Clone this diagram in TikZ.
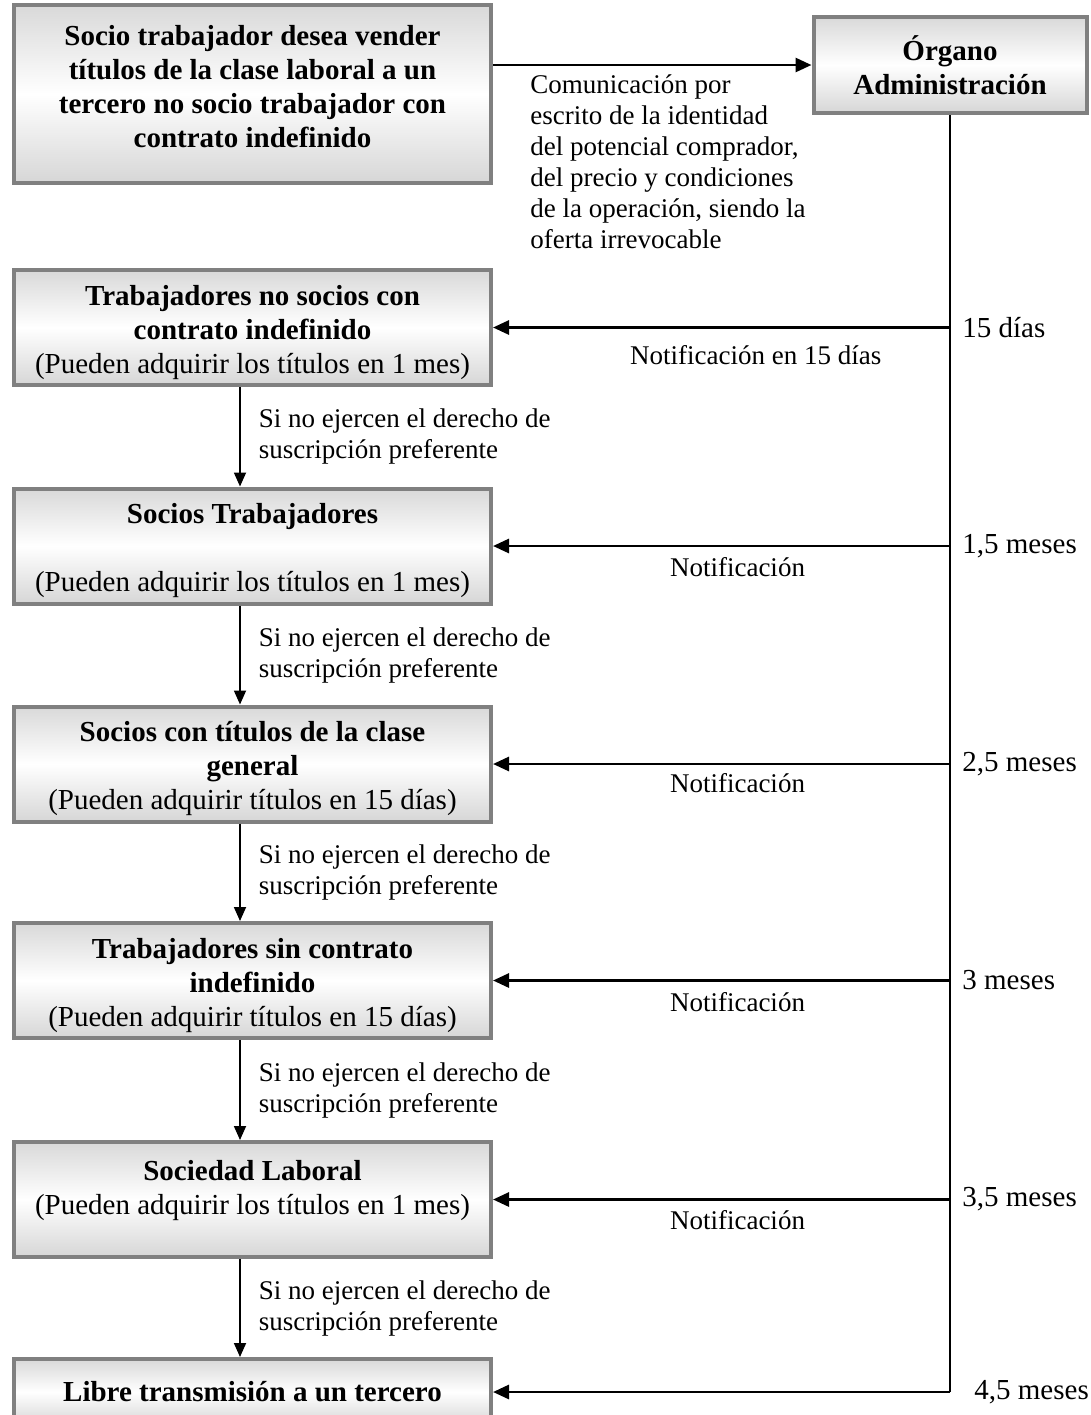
\documentclass[tikz,border=0pt]{standalone}
\usepackage{fontspec}
\setmainfont{Liberation Serif}
\usepackage{tikz}
\usetikzlibrary{arrows.meta,positioning,calc}
\newcommand{\bajar}{\rule{0pt}{15pt}}
\newcommand{\subir}{\rule[-8pt]{0pt}{8pt}}

\begin{document}
\begin{tikzpicture}[x=0.5pt, y=-0.5pt, >={Triangle[length=8pt,width=7pt]},
    caja/.style={draw=gray, line width=2pt, top color=gray!30, bottom color=gray!32,
        middle color=white, minimum width=238.5pt, minimum height=57.5pt,
        align=center, inner sep=2pt, font=\fontsize{14.5}{17}\selectfont},
    etiq/.style={font=\fontsize{13.5}{15.5}\selectfont, inner sep=0pt},
    plazo/.style={font=\fontsize{14.5}{17}\selectfont, anchor=west, inner sep=0pt},
    flecha/.style={->, line width=1.4pt},
    baja/.style={-{Triangle[length=7pt,width=6pt]}, line width=0.9pt}]
\useasboundingbox (0,0) rectangle (1091,1415);
\clip (0,0) rectangle (1091,1415);

% Boxes of the offer chain.
\node[caja, minimum height=89pt] (socio) at (252.5,94) {\textbf{Socio trabajador desea vender}\\
    \textbf{títulos de la clase laboral a un}\\ \textbf{tercero no socio trabajador con}\\
    \textbf{contrato indefinido}\subir};
\node[caja, minimum width=136.5pt, minimum height=48pt] (org) at (950,65)
    {\textbf{Órgano}\\ \textbf{Administración}};
\node[caja] (tns) at (252.5,327.5) {\bajar\textbf{Trabajadores no socios con}\\
    \textbf{contrato indefinido}\\ (Pueden adquirir los títulos en 1 mes)};
\node[caja] (soct) at (252.5,546) {\bajar\textbf{Socios Trabajadores}\\[17pt]
    (Pueden adquirir los títulos en 1 mes)};
\node[caja] (socg) at (252.5,764) {\bajar\textbf{Socios con títulos de la clase}\\
    \textbf{general}\\ (Pueden adquirir títulos en 15 días)};
\node[caja] (tsc) at (252.5,980.5) {\bajar\textbf{Trabajadores sin contrato}\\
    \textbf{indefinido}\\ (Pueden adquirir títulos en 15 días)};
\node[caja] (soclab) at (252.5,1199.5) {\bajar\textbf{Sociedad Laboral}\\
    (Pueden adquirir los títulos en 1 mes)\\ \mbox{}};
\node[caja, minimum height=33pt] (libre) at (252.5,1392) {\textbf{Libre transmisión a un tercero}};

% Communication to the board.
\draw[flecha] (socio.east |- org.west) -- (org.west);
\node[etiq, align=left, anchor=north west] (com) at (530,74) {Comunicación por\\
    escrito de la identidad\\ del potencial comprador,\\ del precio y condiciones\\
    de la operación, siendo la\\ oferta irrevocable};

% Notifications from the board.
\draw[line width=1pt] (org.south) -- (org.south |- libre.east) coordinate (rlibre);
\foreach \n/\t/\m/\p/\d in {tns/15 días/Notificación en 15 días/0.425/8.5pt,
    soct/{1,5 meses}/Notificación/0.465/5pt, socg/{2,5 meses}/Notificación/0.465/4pt,
    tsc/3 meses/Notificación/0.465/5.5pt, soclab/{3,5 meses}/Notificación/0.465/5pt}{
    \draw[flecha] (org.south |- \n.east) coordinate (r\n) -- (\n.east)
        node[etiq, pos=\p, below=\d] (n-\n) {\m};
    \node[plazo] (t-\n) at ($(r\n)+(12,0)$) {\t};
}
\draw[flecha] (rlibre) -- (libre.east);
\node[plazo] (t-libre) at ($(rlibre)+(24,0)$) {4,5 meses};

% Fall-through when the right is not used.
\coordinate (eje) at (240,0);
\foreach \a/\b in {tns/soct, soct/socg, socg/tsc, tsc/soclab, soclab/libre}{
    \draw[baja] (\a.south -| eje) -- (\b.north -| eje)
        node[etiq, midway, right=9pt, align=left] (s-\a) {Si no ejercen el derecho de\\
        suscripción preferente};
}
\end{tikzpicture}
\end{document}
